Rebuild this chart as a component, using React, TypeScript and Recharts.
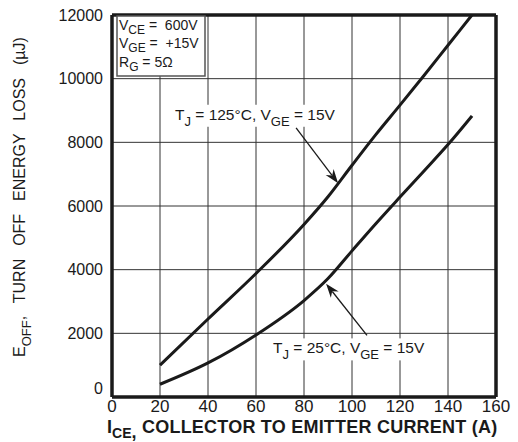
import React from 'react'
import { LineChart, Line, XAxis, YAxis, CartesianGrid, ReferenceLine, ReferenceDot } from 'recharts'

// collector current (A)
const current = [20, 40, 60, 80, 90, 100, 110, 120, 130, 140, 150]
// turn off energy loss (µJ)
const loss125 = [1000, 2450, 3880, 5420, 6290, 7280, 8250, 9170, 10100, 11050, 12000]
const loss25 = [400, 1070, 1950, 3030, 3720, 4590, 5450, 6280, 7100, 7930, 8830]

const xTicks = [0, 20, 40, 60, 80, 100, 120, 140, 160]
const yTicks = [0, 2000, 4000, 6000, 8000, 10000, 12000]

const data = current.map((c, i) => ({ ic: c, t125: loss125[i], t25: loss25[i] }))

const FONT = 'Liberation Sans, Arial, Helvetica, sans-serif'
const INK = '#1a1a1a'

const YTick = (props: any) => {
    const { x, y, payload } = props
    return (
        <text x={x} y={y + (payload.value === 0 ? -9 : 0)} dy="0.355em" textAnchor="end"
            fontSize={16} fill={INK} fontFamily={FONT}>{payload.value}</text>
    )
}

const XTick = (props: any) => {
    const { x, y, payload } = props
    return (
        <text x={x} y={y} dy="0.71em" textAnchor="middle" fontSize={17} fill={INK} fontFamily={FONT}>{payload.value}</text>
    )
}

const Arrow = (props: any) => {
    const { x1, y1, x2, y2 } = props
    const dx = x2 - x1, dy = y2 - y1
    const len = Math.sqrt(dx * dx + dy * dy)
    const ux = dx / len, uy = dy / len
    const L = 14, W = 5
    const bx = x2 - ux * L, by = y2 - uy * L
    const nx = -uy, ny = ux
    return (
        <g>
            <line x1={x1} y1={y1} x2={bx + ux * 4} y2={by + uy * 4} stroke={INK} strokeWidth={1.3} />
            <polygon points={`${x2},${y2} ${bx + nx * W},${by + ny * W} ${x2 - ux * L * 0.7},${y2 - uy * L * 0.7} ${bx - nx * W},${by - ny * W}`} fill={INK} />
        </g>
    )
}

const Note = (sub1: string, rest1: string, rest2: string, w: number) => (props: any) => (
    <g>
        <rect x={props.cx - 3} y={props.cy - 15} width={w + 6} height={22} fill="#fff" />
        <text x={props.cx} y={props.cy} fontSize={15.5} fill={INK} fontFamily={FONT} style={{ whiteSpace: 'pre' }}>
            <tspan>T</tspan>
            <tspan dy={6} fontSize={13}>{sub1}</tspan>
            <tspan dy={-6}>{rest1}</tspan>
            <tspan dy={6} fontSize={13}>GE</tspan>
            <tspan dy={-6}>{rest2}</tspan>
        </text>
    </g>
)

const CondBox = (props: any) => {
    const x = props.cx + 5, y = props.cy + 1
    const line = (main: string, sub: string, rest: string, by: number) => (
        <text x={x + 2} y={y + by} fontSize={14} fill={INK} fontFamily={FONT} style={{ whiteSpace: 'pre' }}>
            <tspan>{main}</tspan>
            <tspan dy={4} fontSize={12}>{sub}</tspan>
            <tspan dy={-4}>{rest}</tspan>
        </text>
    )
    return (
        <g>
            <rect x={x} y={y} width={88} height={60} fill="#fff" stroke="#555" strokeWidth={1.5} />
            {line('V', 'CE', ' =  600V', 14)}
            {line('V', 'GE', ' =  +15V', 32)}
            {line('R', 'G', ' = 5Ω', 51)}
        </g>
    )
}

const YTitle = () => (
    <text transform="translate(25,357) rotate(-90)" fontSize={16} fill={INK} fontFamily={FONT}
        style={{ whiteSpace: 'pre', wordSpacing: 8.5 }}>
        <tspan>E</tspan>
        <tspan dy={6} fontSize={13}>OFF</tspan>
        <tspan dy={-6}>, TURN OFF ENERGY LOSS (µJ)</tspan>
    </text>
)

const XTitle = () => (
    <text x={107} y={433} fontSize={18} fontWeight="bold" fill={INK} fontFamily={FONT} style={{ whiteSpace: 'pre' }}>
        <tspan>I</tspan>
        <tspan dy={5} fontSize={14}>CE</tspan>
        <tspan>,</tspan>
        <tspan dy={-5} x={142} letterSpacing={0.22}>COLLECTOR TO EMITTER CURRENT (A)</tspan>
    </text>
)

export default function App() {
    return (
        <div style={{ position: 'absolute', left: 0, top: 0, background: '#fff' }}>
            <LineChart width={518} height={442} data={data} margin={{ top: 15, right: 22, bottom: 0, left: 0 }}>
                <CartesianGrid stroke="#333" strokeWidth={1} />
                <XAxis dataKey="ic" type="number" domain={[0, 160]} ticks={xTicks} interval={0}
                    height={45} tickSize={0} tickMargin={3} axisLine={false} tick={<XTick />}
                    label={{ content: <XTitle /> }} />
                <YAxis type="number" domain={[0, 12000]} ticks={yTicks} interval={0}
                    width={112} tickSize={0} tickMargin={9} axisLine={false} tick={<YTick />}
                    label={{ content: <YTitle /> }} />
                <Line dataKey="t125" type="monotone" stroke={INK} strokeWidth={3} dot={false} isAnimationActive={false} />
                <Line dataKey="t25" type="monotone" stroke={INK} strokeWidth={3} dot={false} isAnimationActive={false} />
                <ReferenceLine x={0} stroke={INK} strokeWidth={3.5} />
                <ReferenceLine x={160} stroke={INK} strokeWidth={3.5} />
                <ReferenceLine y={0} stroke={INK} strokeWidth={3.5} />
                <ReferenceLine y={12000} stroke={INK} strokeWidth={3.5} />
                <ReferenceDot x={0} y={12000} r={0} shape={CondBox} />
                <ReferenceDot x={26.25} y={8709} r={0} shape={Note('J', ' = 125°C, V', ' = 15V', 168)} />
                <ReferenceDot x={67.1} y={1370} r={0} shape={Note('J', ' = 25°C, V', ' = 15V', 160)} />
                <ReferenceLine segment={[{ x: 76.7, y: 8457 }, { x: 94.2, y: 6715 }]} shape={Arrow} />
                <ReferenceLine segment={[{ x: 106.25, y: 1937 }, { x: 89.2, y: 3560 }]} shape={Arrow} />
            </LineChart>
        </div>
    )
}
